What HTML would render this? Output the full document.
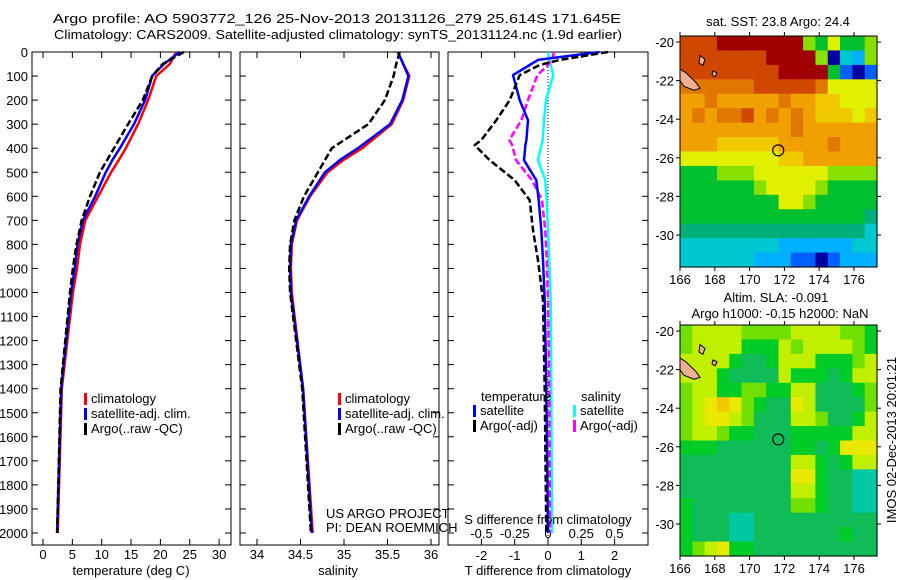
<!DOCTYPE html>
<html><head><meta charset="utf-8">
<style>
body{margin:0;background:#fff;}
svg{display:block;font-family:"Liberation Sans",sans-serif;}
text{font-size:13px;fill:#000;}
</style></head>
<body>
<svg id="fig" width="900" height="580" viewBox="0 0 900 580">
<text x="53" y="23" textLength="568" lengthAdjust="spacingAndGlyphs" font-size="14">Argo profile: AO 5903772_126 25-Nov-2013 20131126_279 25.614S 171.645E</text>
<text x="54" y="39" textLength="568" lengthAdjust="spacingAndGlyphs" font-size="14">Climatology: CARS2009. Satellite-adjusted climatology: synTS_20131124.nc (1.9d earlier)</text>
<g id="g"></g>
</svg>
<script>
// ---- data ----
const depths = [0,50,100,200,300,400,450,500,600,700,800,900,1000,1400,2000];
const tempClim = [22.7,21.6,19.3,17.9,16.2,14.1,12.9,11.6,9.4,7.2,6.3,5.8,5.1,3.2,2.5];
const tempSat  = [23.3,20.6,18.6,17.4,15.5,13.1,11.8,10.7,8.9,6.8,5.9,5.4,4.8,3.1,2.4];
const tempArgo = [24.0,20.4,18.6,17.0,14.5,12.1,10.9,9.7,8.0,6.6,5.7,5.1,4.6,3.0,2.4];
const salClim = [35.62,35.68,35.75,35.68,35.55,35.21,34.99,34.81,34.61,34.46,34.40,34.39,34.40,34.53,34.64];
const salSat  = [35.62,35.68,35.74,35.67,35.53,35.16,34.95,34.78,34.60,34.45,34.39,34.38,34.39,34.53,34.63];
const salArgo = [35.64,35.60,35.57,35.47,35.28,34.86,34.78,34.70,34.54,34.43,34.38,34.37,34.38,34.52,34.62];
const dDepths = [0,33,54,96,200,283,366,387,450,533,616,740,866,1033,1400,2000];
const dTArgo = [1.8,0.35,-0.25,-0.85,-1.15,-1.55,-2.0,-2.2,-1.75,-1.0,-0.55,-0.45,-0.3,-0.15,-0.1,-0.05];
const dTSat  = [1.55,-0.3,-0.55,-1.05,-0.85,-0.6,-0.65,-0.68,-0.72,-0.35,-0.28,-0.2,-0.15,-0.1,-0.05,0];
const dSArgo = [0.045,0.03,0.0,-0.08,-0.15,-0.2,-0.29,-0.27,-0.24,-0.12,-0.045,-0.02,-0.01,0.0,0.01,0.015];
const dSSat  = [0.0,0.01,0.02,0.04,-0.015,-0.03,-0.04,-0.05,-0.075,-0.02,-0.01,0.0,0.01,0.02,0.025,0.03];
const depthTicks = [0,100,200,300,400,500,600,700,800,900,1000,1100,1200,1300,1400,1500,1600,1700,1800,1900,2000];
const tempTicks = [0,5,10,15,20,25,30];
const salTicks = [34,34.5,35,35.5,36];
const salTickLabels = ["34","34.5","35","35.5","36"];
const dTTicks = [-2,-1,0,1,2];
const dSTicks = [-0.5,-0.25,0,0.25,0.5];
const dSTickLabels = ["-0.5","-0.25","0","0.25","0.5"];
const lonTicks = [166,168,170,172,174,176];
const latTicks = [-20,-22,-24,-26,-28,-30];
const sstGrid = [
"bbbccccccc657556","bbbbbbbcccc60326","bbbbbbbbcccc5101","aaaaaabbbbba7777",
"99a99999a9988777","9a9aab9a9a988878","999999999a999999","999888889999a999",
"7777777788999999","5556667777776666","5555556777765555","5555555577655555",
"5555555555555554","4444444444444443","3333333322222233","3333332221101222"];
const slaGrid = [
"3444433334444332","3444422243444432","4444211244422234","4442111142221244",
"3442233224411123","3456532115411113","3455431114431124","3443221112222244",
"2221111112212555","1111111114421244","1111111115521100","1111111114421100",
"2111111113321100","2111001111111111","2111001111111211","2345221111111111"];
const sstColors = ["#0000a0","#0060ff","#00b0ff","#00c8d0","#00b078","#00c030","#88e000","#e0f000","#f0c800","#f0a000","#e07800","#d04800","#a00000"];
const slaColors = ["#00c8a0","#10bc58","#00cc28","#70e000","#c0f000","#e8e800","#f0c800"];
const floatLon = 171.645, floatLat = -25.614;

// ---- helpers ----
const NS="http://www.w3.org/2000/svg";
const G=document.getElementById('g');
function el(tag,attrs,parent){const e=document.createElementNS(NS,tag);for(const k in attrs)e.setAttribute(k,attrs[k]);(parent||G).appendChild(e);return e;}
function txt(x,y,s,anchor,parent){const t=el('text',{x:x,y:y,'text-anchor':anchor||'start'},parent);t.textContent=s;return t;}
const yD = d => 52 + 0.2405*d;
const PB = 545;

function panel(name,x0,x1,showY){
  const g=el('g',{});
  
  
  el('rect',{x:x0,y:52,width:x1-x0,height:PB-52,fill:'none',stroke:'#000','stroke-width':1},g);
  depthTicks.forEach(d=>{const y=yD(d);
    el('line',{x1:x0,x2:x0+6,y1:y,y2:y,stroke:'#000'},g);
    el('line',{x1:x1-6,x2:x1,y1:y,y2:y,stroke:'#000'},g);
    if(showY){const t=txt(x0-4,y+5,String(d),'end',g);
      
      }
  });
  return g;
}
function xticks(g,vals,labels,fx,ly,top){
  vals.forEach((v,i)=>{const x=fx(v);
    el('line',{x1:x,x2:x,y1:PB-6,y2:PB,stroke:'#000'},g);
    if(top) el('line',{x1:x,x2:x,y1:52,y2:58,stroke:'#000'},g);
    if(ly){const t=txt(x,ly,labels[i],'middle',g);
      
      }
  });
}
function line(g,xs,ds,fx,color,w,dash,name){
  const pts=xs.map((v,i)=>fx(v).toFixed(1)+','+yD(ds[i]).toFixed(1)).join(' ');
  const p=el('polyline',{points:pts,fill:'none',stroke:color,'stroke-width':w,'stroke-linejoin':'round'},g);
  if(dash)p.setAttribute('stroke-dasharray',dash);
  
  
}
function legend(g,x,y,items){
  items.forEach((it,i)=>{
    el('rect',{x:x,y:y+i*15-10,width:3,height:12,fill:it[0]},g);
    const t=txt(x+7,y+i*15,it[1],'start',g);
    
    
  });
}

// ---- temperature panel ----
const fT=v=>43+5.87*v;
const g1=panel('temperature-panel',32,231,true);
xticks(g1,tempTicks,tempTicks.map(String),fT,559,true);
const xt1=txt(131,575,'temperature (deg C)','middle',g1);


line(g1,tempClim,depths,fT,'#ff0000',2.5,null,'temp-climatology-line');
line(g1,tempSat,depths,fT,'#0000ff',2.5,null,'temp-satellite-line');
line(g1,tempArgo,depths,fT,'#000',2.5,'7,3','temp-argo-line');
legend(g1,84,403,[['#ff0000','climatology'],['#0000ff','satellite-adj. clim.'],['#000','Argo(..raw -QC)']]);

// ---- salinity panel ----
const fS=v=>257+87*(v-34);
const g2=panel('salinity-panel',240,439,false);
xticks(g2,salTicks,salTickLabels,fS,559,true);
const xt2=txt(338,575,'salinity','middle',g2);


line(g2,salClim,depths,fS,'#ff0000',2.5,null,'sal-climatology-line');
line(g2,salSat,depths,fS,'#0000ff',2.5,null,'sal-satellite-line');
line(g2,salArgo,depths,fS,'#000',2.5,'7,3','sal-argo-line');
legend(g2,338,403,[['#ff0000','climatology'],['#0000ff','satellite-adj. clim.'],['#000','Argo(..raw -QC)']]);
const c1=txt(326,518,'US ARGO PROJECT','start',g2);


const c2=txt(326,532,'PI: DEAN ROEMMICH','start',g2);



// ---- difference panel ----
const fdT=v=>548+33.3*v, fdS=v=>548+133*v;
const g3=panel('difference-panel',448,648,false);
xticks(g3,dTTicks,dTTicks.map(String),fdT,560,true);
dSTicks.forEach((v,i)=>{const t=txt(fdS(v),538,dSTickLabels[i],'middle',g3);
  
  });
el('line',{x1:548,x2:548,y1:52,y2:PB,stroke:'#000','stroke-dasharray':'1,2'},g3);
line(g3,dSSat,dDepths,fdS,'#00ffff',2.5,null,'sal-diff-satellite-line');
line(g3,dSArgo,dDepths,fdS,'#ff00ff',2.5,'7,3','sal-diff-argo-line');
line(g3,dTSat,dDepths,fdT,'#0000ff',2.5,null,'temp-diff-satellite-line');
line(g3,dTArgo,dDepths,fdT,'#000',2.5,'7,3','temp-diff-argo-line');
const lh1=txt(481,401,'temperature','start',g3);
const lh2=txt(581,401,'salinity','start',g3);
legend(g3,473,415,[['#0000ff','satellite'],['#000','Argo(-adj)']]);
legend(g3,573,415,[['#00ffff','satellite'],['#ff00ff','Argo(-adj)']]);
const st=txt(548,524,'S difference from climatology','middle',g3);


const tt=txt(548,575,'T difference from climatology','middle',g3);



// ---- maps ----
function map(name,top,grid,colors){
  const L=680,R=877,B=top+231;
  const fx=lon=>L+(lon-166)*17.4, fy=lat=>top+6+(-20-lat)*19.3;
  const g=el('g',{});
  
  
  const rows=grid.length, cols=grid[0].length;
  const cw=(R-L)/cols, ch=(B-top)/rows;
  grid.forEach((row,r)=>{for(let c=0;c<cols;c++){
    const cell=el('rect',{x:(L+c*cw).toFixed(2),y:(top+r*ch).toFixed(2),width:(cw+0.6).toFixed(2),height:(ch+0.6).toFixed(2),fill:colors[parseInt(row[c],16)]},g);
    
    
  }});
  const isl=el('path',{d:`M${L},${fy(-21.4)} L${L+6},${fy(-21.6)} L${L+16},${fy(-22.1)} L${L+20},${fy(-22.4)} L${L+14},${fy(-22.5)} L${L+4},${fy(-22.3)} L${L},${fy(-22.0)} Z M${L+20},${fy(-20.7)} L${L+25},${fy(-20.9)} L${L+23},${fy(-21.2)} L${L+19},${fy(-21.1)} Z M${L+33},${fy(-21.5)} L${L+37},${fy(-21.6)} L${L+35},${fy(-21.8)} L${L+32},${fy(-21.7)} Z`,fill:'#f0b090',stroke:'#000','stroke-width':1},g);
  
  
  el('rect',{x:L,y:top,width:R-L,height:B-top,fill:'none',stroke:'#000'},g);
  const fl=el('circle',{cx:fx(floatLon),cy:fy(floatLat),r:5.5,fill:'none',stroke:'#000','stroke-width':1.2},g);
  
  
  lonTicks.forEach(v=>{const x=fx(v);
    el('line',{x1:x,x2:x,y1:top-4,y2:top,stroke:'#000'},g);
    el('line',{x1:x,x2:x,y1:B,y2:B+4,stroke:'#000'},g);
    const t=txt(x,B+17,String(v),'middle',g);
    
    });
  latTicks.forEach(v=>{const y=fy(v);
    el('line',{x1:L-4,x2:L,y1:y,y2:y,stroke:'#000'},g);
    el('line',{x1:R,x2:R+4,y1:y,y2:y,stroke:'#000'},g);
    const t=txt(L-6,y+5,String(v),'end',g);
    
    });
  return g;
}
const m1=map('sst-map',36,sstGrid,sstColors);
const mt1=txt(778,26,'sat. SST: 23.8 Argo: 24.4','middle',m1);


const m2=map('sla-map',325,slaGrid,slaColors);
const mt2=txt(776,302,'Altim. SLA: -0.091','middle',m2);


const mt3=txt(780,318,'Argo h1000: -0.15 h2000: NaN','middle',m2);


const stamp=txt(0,0,'IMOS 02-Dec-2013 20:01:21','middle');
stamp.setAttribute('transform','translate(896,440) rotate(-90)');


</script>
</body></html>
